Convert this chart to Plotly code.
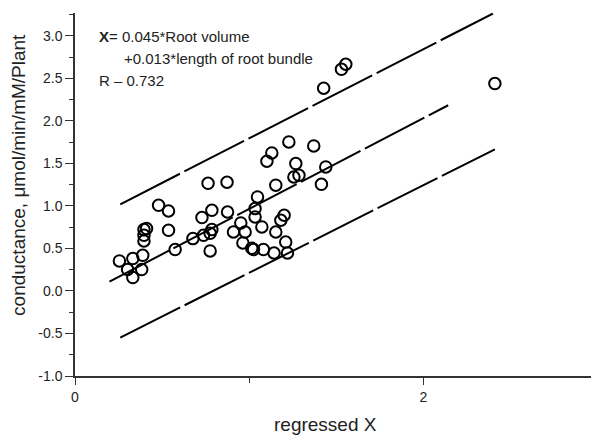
import plotly.graph_objects as go

# Scatter data (regressed X vs conductance)
reg_x = [0.255, 0.332, 0.389, 0.302, 0.383, 0.332, 0.396, 0.396, 0.411, 0.396,
         0.480, 0.537, 0.537, 0.575, 0.677, 0.729, 0.786, 0.738, 0.786, 0.776,
         0.776, 0.764, 0.873, 0.876, 0.952, 0.910, 0.977, 0.964, 1.034, 1.034,
         1.073, 1.025, 1.082, 1.015, 1.153, 1.143, 1.201, 1.182, 1.210, 1.220,
         1.048, 1.102, 1.130, 1.228, 1.153, 1.257, 1.286, 1.268, 1.371, 1.440,
         1.415, 1.428, 1.530, 1.555, 2.411]
conductance = [0.353, 0.381, 0.420, 0.252, 0.252, 0.158, 0.588, 0.722, 0.734, 0.655,
               1.008, 0.941, 0.714, 0.487, 0.616, 0.864, 0.949, 0.655, 0.722, 0.679,
               0.471, 1.267, 1.279, 0.929, 0.800, 0.694, 0.694, 0.565, 0.969, 0.871,
               0.753, 0.487, 0.487, 0.502, 0.694, 0.447, 0.891, 0.832, 0.576, 0.447,
               1.106, 1.526, 1.624, 1.753, 1.244, 1.341, 1.361, 1.499, 1.706, 1.459,
               1.255, 2.385, 2.608, 2.667, 2.440]

# Regression line and bands (endpoints)
fit_x = [0.198, 2.143]
fit_y = [0.110, 2.185]
upper_x = [0.260, 2.400]
upper_y = [1.020, 3.264]
lower_x = [0.260, 2.411]
lower_y = [-0.548, 1.667]

# Tick labels
x_tickvals = [0, 2]
x_ticktext = ["0", "2"]
y_tickvals = [-1.0, -0.5, 0.0, 0.5, 1.0, 1.5, 2.0, 2.5, 3.0]
y_ticktext = ["-1.0", "-0.5", "0.0", "0.5", "1.0", "1.5", "2.0", "2.5", "3.0"]

fig = go.Figure()
dash = "67px,5px"
for lx, ly in [(upper_x, upper_y), (fit_x, fit_y), (lower_x, lower_y)]:
    fig.add_trace(go.Scatter(x=lx, y=ly, mode="lines",
                             line=dict(color="black", width=2, dash=dash),
                             hoverinfo="skip", showlegend=False))

fig.add_trace(go.Scatter(x=reg_x, y=conductance, mode="markers",
                         marker=dict(symbol="circle-open", size=11.5, color="black",
                                     line=dict(width=2)),
                         showlegend=False))

font_family = "Liberation Sans, Arial, sans-serif"
axis_col = "#333333"

fig.update_layout(
    width=591, height=435,
    margin=dict(l=75, r=0, t=13, b=59),
    plot_bgcolor="white", paper_bgcolor="white",
    font=dict(family=font_family, color="#222222", size=14),
    showlegend=False,
)
fig.update_xaxes(range=[0, 2.963], showline=True, linewidth=1.5, linecolor=axis_col,
                 showgrid=False, zeroline=False, ticks="outside", ticklen=7,
                 tickwidth=1.2, tickcolor=axis_col, tickvals=x_tickvals, ticktext=x_ticktext,
                 minor=dict(tickvals=[1], ticks="outside", ticklen=5, tickcolor=axis_col,
                            tickwidth=1.2, showgrid=False),
                 tickfont=dict(size=14))
fig.update_yaxes(range=[-1.0, 3.27], showline=True, linewidth=1.5, linecolor=axis_col,
                 showgrid=False, zeroline=False, ticks="outside", ticklen=8,
                 tickwidth=1.2, tickcolor=axis_col, tickvals=y_tickvals, ticktext=y_ticktext,
                 minor=dict(dtick=0.25, tick0=0, ticks="outside", ticklen=4, tickcolor=axis_col,
                            tickwidth=1.2, showgrid=False),
                 tickfont=dict(size=14))

ann_font = dict(family=font_family, size=15, color="#222222")
fig.add_annotation(x=0.125, y=2.99, xref="x", yref="y", xanchor="left", yanchor="middle",
                   text="<b>X</b>= 0.045*Root volume", showarrow=False, font=ann_font)
fig.add_annotation(x=0.268, y=2.735, xref="x", yref="y", xanchor="left", yanchor="middle",
                   text="+0.013*length of root bundle", showarrow=False, font=ann_font)
fig.add_annotation(x=0.125, y=2.48, xref="x", yref="y", xanchor="left", yanchor="middle",
                   text="R – 0.732", showarrow=False, font=ann_font)

title_font = dict(family=font_family, size=19, color="#222222")
fig.add_annotation(x=0.4855, y=-0.133, xref="paper", yref="paper", xanchor="center",
                   yanchor="middle", text="regressed X", showarrow=False, font=title_font)
fig.add_annotation(x=-0.1085, y=0.554, xref="paper", yref="paper", xanchor="center",
                   yanchor="middle", text="conductance, μmol/min/mM/Plant", textangle=-90,
                   showarrow=False, font=title_font)

fig.write_html("out.html", config={"displayModeBar": False},
               post_script="document.body.style.margin='0';document.body.style.padding='0';")
